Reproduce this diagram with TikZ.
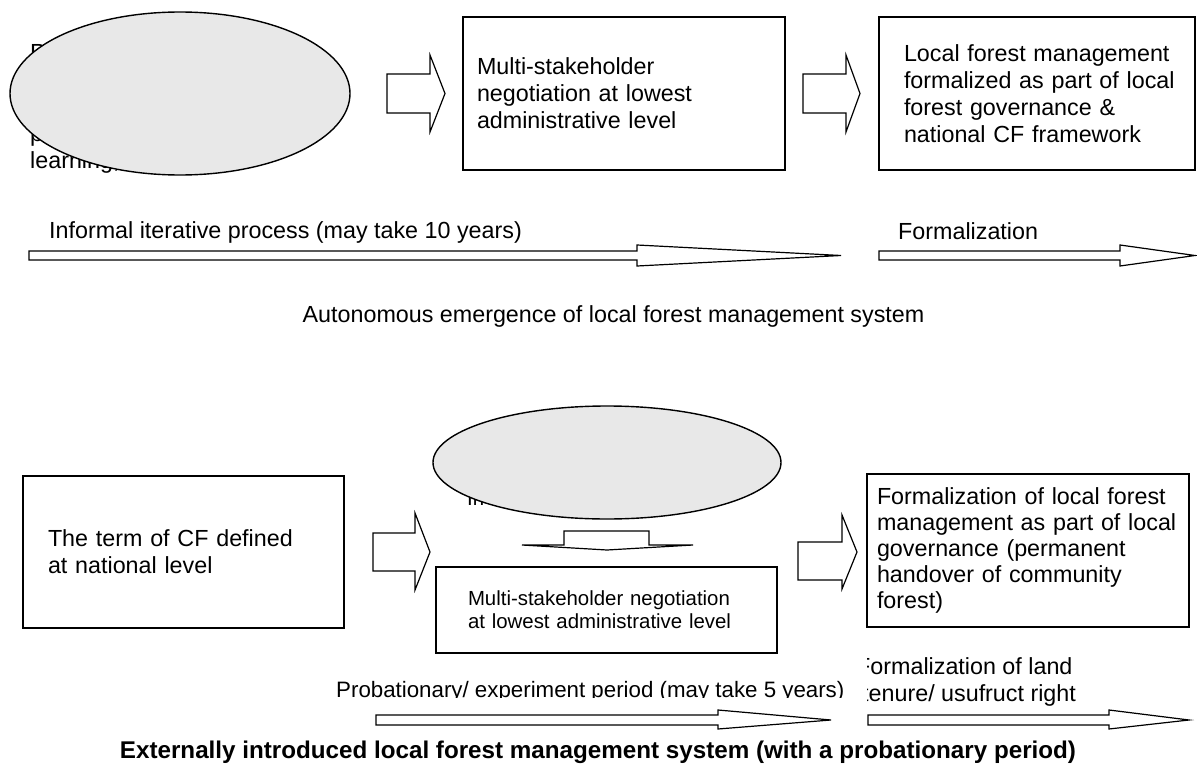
\documentclass[tikz,border=0pt]{standalone}
\usepackage{fontspec}
\setmainfont{Liberation Sans}
\usetikzlibrary{shapes.geometric}

\definecolor{blobgray}{RGB}{232,232,232}

\newcommand{\bigtxt}{\fontsize{23.3}{27}\selectfont}
\newcommand{\midtxt}{\fontsize{22.3}{26}\selectfont}
\newcommand{\smalltxt}{\fontsize{20.4}{23}\selectfont}

% tail x, shaft top, shaft bottom, head base x, head top, head bottom, tip x, tip y
\newcommand{\fatarrow}[8]{%
  \draw[fat] (#1,#2) -- (#4,#2) -- (#4,#5) -- (#7,#8) -- (#4,#6) -- (#4,#3) -- (#1,#3) -- cycle;}

\begin{document}
\begin{tikzpicture}[x=1pt, y=-1pt,
    box/.style = {draw, line width=1.6pt, rectangle, inner sep=0pt, align=left, font=\bigtxt},
    blob/.style = {draw, line width=1.4pt, ellipse, fill=blobgray, inner sep=0pt},
    fat/.style = {draw, line width=1.2pt, fill=white, line join=miter},
    lbl/.style = {inner sep=0pt, anchor=base west, font=\bigtxt}]

    \useasboundingbox (0,0) rectangle (1197,784);

    % Autonomous emergence (top half)
    \node[lbl] (ptop) at (30,60) {P};
    \node[lbl] (pmid) at (30,141) {p};
    \node[lbl] (learn) at (30,168) {learning,};
    \node[blob, minimum width=340, minimum height=163] (e1) at (180,93.5) {};

    \node[box, minimum width=322, minimum height=153, text width=294] (b1) at (624,93.5)
        {Multi-stakeholder\\ negotiation at lowest\\ administrative level};
    \node[box, minimum width=316, minimum height=153, text width=266] (b2) at (1037,93.5)
        {Local forest management\\ \mbox{formalized as part of local}\\ forest governance \&\\ national CF framework};

    \fatarrow{387}{74}{113}{430}{55}{132}{445}{93.5}
    \fatarrow{803}{74}{113}{846}{55}{132}{860}{93.5}

    % Draw the process arrows
    \node[lbl] (informal) at (49,238) {Informal iterative process (may take 10 years)};
    \node[lbl] (formal) at (898,239) {Formalization};
    \fatarrow{29}{251}{260}{637}{245}{266}{841}{255.5}
    \fatarrow{879}{251}{260}{1120}{245}{266}{1195}{255.5}

    \node[lbl, anchor=base] (auto) at (613.5,322) {Autonomous emergence of local forest management system};

    % Externally introduced (bottom half)
    \node[box, minimum width=321, minimum height=152, text width=271] (c1) at (183.5,552)
        {The term of CF defined\\ at national level};
    \fatarrow{373}{533}{571}{415}{513}{590}{430}{552}

    \node[lbl, font=\smalltxt] (intro) at (467,505) {In};
    \node[blob, minimum width=348, minimum height=113] (e2) at (607,462.5) {};

    \draw[fat] (564,531) -- (649,531) -- (649,545) -- (693,545) -- (607,550)
        -- (522,545) -- (564,545) -- cycle;

    \node[box, font=\smalltxt, minimum width=341, minimum height=86, text width=277] (c2) at (606.5,610)
        {Multi-stakeholder negotiation\\ at lowest administrative level};
    \fatarrow{798}{542}{580}{842}{515}{589}{857}{552}

    \node[box, minimum width=322, minimum height=153, text width=302, font=\fontsize{23.3}{26}\selectfont] (c3) at (1028,550.5)
        {Formalization of local forest\\ management as part of local\\ governance (permanent\\ handover of community\\ forest)};

    \begin{scope}
        \clip (300,640) rectangle (866,697.8);
        \node[lbl, font=\midtxt] (proba) at (336,697) {Probationary/ experiment period (may take 5 years)};
    \end{scope}
    \begin{scope}
        \clip (867,640) rectangle (1197,712);
        \node[lbl] (land) at (856,674) {Formalization of land};
        \node[lbl] (tenure) at (862,701) {tenure/ usufruct right};
    \end{scope}
    \fatarrow{376}{715}{725}{718}{710}{729}{831}{720}
    \fatarrow{868}{715}{725}{1109}{710}{729}{1189}{720}

    \node[lbl, anchor=base, font=\fontsize{24.2}{28}\selectfont\bfseries] (extern) at (598,758)
        {Externally introduced local forest management system (with a probationary period)};

\end{tikzpicture}
\end{document}
